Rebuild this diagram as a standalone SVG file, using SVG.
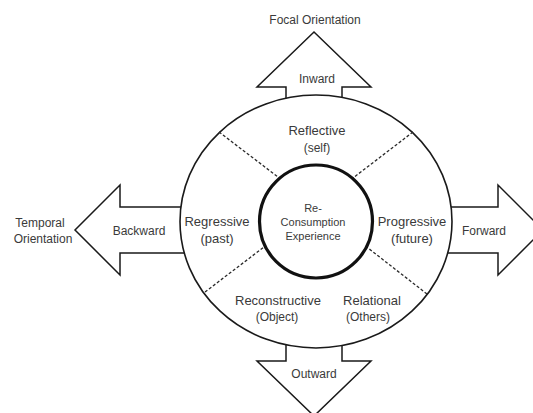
<svg xmlns="http://www.w3.org/2000/svg" width="533" height="413" viewBox="0 0 533 413">
<style>
.arrow{fill:#fff;stroke:#1a1a1a;stroke-width:1.5;stroke-linejoin:miter}
.outer{fill:#fff;stroke:#1a1a1a;stroke-width:1.6}
.inner{fill:#fff;stroke:#111;stroke-width:3.2}
.dash{stroke:#2a2a2a;stroke-width:1.3;stroke-dasharray:3 2;fill:none}
text{font-family:"Liberation Sans",Arial,sans-serif;fill:#3a3a3a;text-anchor:middle}
.lbl{font-size:12px}
.big{font-size:13px}
.sm{font-size:11px}
</style>
<g id="arrow-top">
<path class="arrow" d="M286,105 L286,87 L257,87 L314,32 L371,87 L342,87 L342,105"/>
<text class="lbl" x="317" y="83">Inward</text>
<text class="lbl" x="315" y="24">Focal Orientation</text>
</g>
<g id="arrow-bottom">
<path class="arrow" d="M286,340 L286,361 L257,361 L314,416 L371,361 L342,361 L342,340"/>
<text class="lbl" x="314" y="378">Outward</text>
</g>
<g id="arrow-left">
<path class="arrow" d="M190,207 L120,207 L120,185 L75,230 L120,275 L120,253 L190,253"/>
<text class="lbl" x="139" y="235">Backward</text>
<text class="lbl" x="40" y="227">Temporal</text>
<text class="lbl" x="43" y="243">Orientation</text>
</g>
<g id="arrow-right">
<path class="arrow" d="M440,207 L498,207 L498,185 L543,230 L498,275 L498,253 L440,253"/>
<text class="lbl" x="484" y="235">Forward</text>
</g>
<g id="outer-circle">
<ellipse class="outer" cx="316" cy="221.5" rx="136" ry="126.5"/>
</g>
<g id="connectors">
<line class="dash" x1="219" y1="132" x2="278" y2="177"/>
<line class="dash" x1="413" y1="132" x2="353" y2="178"/>
<line class="dash" x1="205" y1="292" x2="264" y2="247"/>
<line class="dash" x1="427" y1="294" x2="368" y2="248"/>
</g>
<g id="center">
<circle class="inner" cx="316" cy="221.5" r="56.5"/>
<text class="sm" x="313" y="212">Re-</text>
<text class="sm" x="313" y="226">Consumption</text>
<text class="sm" x="313" y="240">Experience</text>
</g>
<g id="reflective">
<text class="big" x="317" y="135">Reflective</text>
<text class="lbl" x="317" y="152">(self)</text>
</g>
<g id="regressive">
<text class="big" x="217" y="226">Regressive</text>
<text class="big" x="217" y="243">(past)</text>
</g>
<g id="progressive">
<text class="big" x="412" y="226">Progressive</text>
<text class="big" x="412" y="243">(future)</text>
</g>
<g id="reconstructive">
<text class="big" x="278" y="305">Reconstructive</text>
<text class="lbl" x="277" y="321">(Object)</text>
</g>
<g id="relational">
<text class="big" x="372" y="305">Relational</text>
<text class="lbl" x="368" y="321">(Others)</text>
</g>
</svg>
